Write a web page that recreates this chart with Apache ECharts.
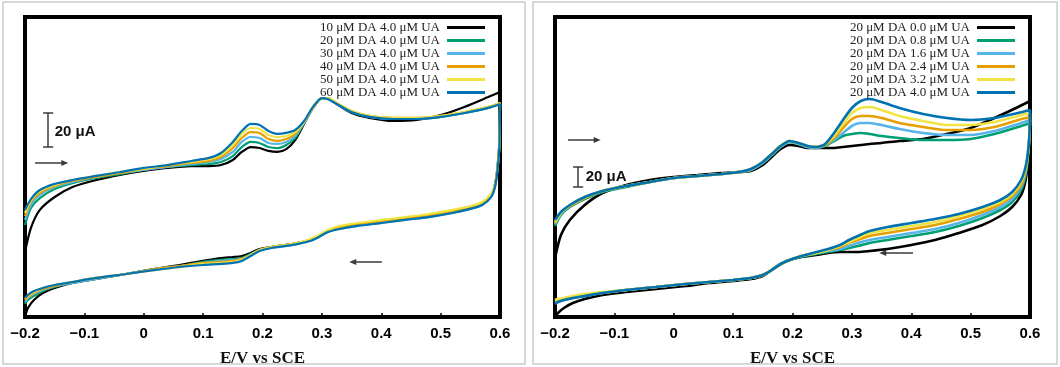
<!DOCTYPE html>
<html><head><meta charset="utf-8">
<script src="https://cdn.jsdelivr.net/npm/echarts/dist/echarts.min.js"></script>
<style>html,body{margin:0;padding:0;background:#fff}#chart{width:1060px;height:367px}</style>
</head><body><div id="chart"></div>
<script>
// ---------- potentials (V vs SCE) ----------
const leftUpE  = [-0.2,-0.19,-0.175,-0.15,-0.12,-0.08,-0.04,0,0.04,0.08,0.11,0.13,0.15,0.165,0.18,0.195,0.21,0.225,0.24,0.255,0.27,0.285,0.3,0.31,0.325,0.35,0.38,0.42,0.46,0.5,0.54,0.58,0.6];
const rightUpE = [-0.2,-0.19,-0.175,-0.15,-0.12,-0.08,-0.04,0,0.04,0.08,0.11,0.13,0.15,0.165,0.18,0.195,0.21,0.225,0.24,0.255,0.27,0.285,0.3,0.315,0.33,0.35,0.38,0.42,0.46,0.5,0.54,0.58,0.6];
const lowerE   = [0.599,0.596,0.592,0.585,0.57,0.55,0.52,0.48,0.44,0.4,0.36,0.33,0.31,0.295,0.28,0.26,0.24,0.215,0.195,0.18,0.165,0.15,0.13,0.1,0.06,0.02,-0.03,-0.08,-0.12,-0.15,-0.17,-0.185,-0.195,-0.2];

const xTicks = [-0.2,-0.1,0,0.1,0.2,0.3,0.4,0.5,0.6];
const leftNames  = ['10 μM DA 4.0 μM UA','20 μM DA 4.0 μM UA','30 μM DA 4.0 μM UA','40 μM DA 4.0 μM UA','50 μM DA 4.0 μM UA','60 μM DA 4.0 μM UA'];
const rightNames = ['20 μM DA 0.0 μM UA','20 μM DA 0.8 μM UA','20 μM DA 1.6 μM UA','20 μM DA 2.4 μM UA','20 μM DA 3.2 μM UA','20 μM DA 4.0 μM UA'];
const colors = ['#000000','#009E73','#56B4E9','#E69F00','#F0E442','#0072B2'];

// ---------- left panel currents (μA, arbitrary offset) ----------
const L10up = [-12.9,1.2,11.8,19.4,25.3,29.4,32.4,34.7,36.5,37.6,37.6,38.2,41.2,45.9,48.8,48.2,46.5,45.9,47.6,52.9,62.4,71.8,77.6,77.6,74.1,68.8,65.9,64.1,64.7,67.6,72.4,78.2,81.2];
const L20up = [2.9,12.9,18.8,24.1,27.6,30.6,32.9,35.3,37.1,38.2,38.8,40.0,43.5,48.8,51.8,51.2,48.8,48.2,50.0,54.1,62.9,71.8,77.6,77.1,74.1,69.4,66.5,65.3,65.3,66.5,68.8,71.8,74.1];
const L30up = [5.9,14.7,20.6,25.3,28.2,31.2,33.5,35.3,37.1,38.8,40.0,41.8,45.9,51.8,54.7,54.1,51.2,50.6,51.8,55.3,62.9,71.8,77.6,77.1,74.1,69.4,66.5,65.3,65.3,66.5,68.8,71.8,74.1];
const L40up = [8.2,16.5,21.8,25.9,28.8,31.2,33.5,35.9,37.6,39.4,40.6,42.9,48.2,54.1,57.6,57.1,53.5,52.4,53.5,56.5,63.5,71.8,77.6,77.6,74.7,70.0,67.1,65.9,65.9,67.1,69.4,72.4,74.7];
const L50up = [10.0,17.6,22.9,26.5,29.4,31.8,34.1,35.9,38.2,40.0,41.8,44.1,50.0,56.5,60.0,59.4,55.9,54.7,55.3,57.6,63.5,72.4,77.6,77.6,74.7,70.0,67.1,65.9,65.9,67.1,69.4,72.4,74.7];
const L60up = [11.8,18.2,23.5,27.1,29.4,31.8,34.1,36.5,38.2,40.6,42.4,45.3,51.8,58.2,62.4,61.8,58.2,56.5,57.1,58.8,64.1,72.4,77.6,77.1,74.1,69.4,66.5,65.3,65.3,66.5,68.8,71.8,74.1];

const L10dn = [52.9,38.2,27.6,20.6,15.9,13.5,11.2,8.8,7.1,5.3,3.5,1.8,-0.6,-3.5,-5.9,-7.6,-8.8,-10.0,-11.2,-13.5,-15.3,-15.9,-16.5,-18.2,-20.6,-22.9,-25.9,-28.8,-31.2,-34.1,-37.1,-41.2,-45.9,-51.2];
const L20dn = [50.0,36.5,26.5,20.0,15.3,12.9,10.6,8.2,6.5,4.7,2.9,1.2,-1.2,-3.5,-5.9,-7.6,-8.8,-10.0,-11.8,-14.1,-16.5,-17.1,-17.6,-18.8,-21.2,-22.9,-25.9,-28.8,-31.2,-33.5,-35.9,-38.8,-41.2,-43.5];
const L30dn = [50.0,36.5,26.5,19.4,14.7,12.4,10.0,7.6,5.9,4.1,2.4,0.6,-1.2,-4.1,-6.5,-8.2,-9.4,-10.6,-11.8,-14.7,-17.1,-17.6,-18.2,-19.4,-21.2,-22.9,-25.9,-28.8,-31.2,-32.9,-35.3,-37.6,-40.0,-42.4];
const L40dn = [50.6,37.1,27.1,20.6,15.9,13.5,11.2,8.8,7.1,5.3,3.5,1.8,-0.6,-3.5,-5.9,-7.6,-8.8,-10.0,-11.8,-14.7,-17.1,-18.2,-18.8,-19.4,-21.2,-22.9,-25.9,-28.2,-30.6,-32.9,-34.7,-37.1,-39.4,-41.2];
const L50dn = [50.6,37.1,27.1,21.2,16.5,14.1,11.8,9.4,7.6,5.9,4.1,2.4,0.0,-2.9,-5.3,-7.6,-8.8,-10.0,-11.8,-14.7,-17.6,-18.8,-19.4,-20.0,-21.8,-23.5,-25.9,-28.2,-30.6,-32.4,-34.1,-36.5,-38.8,-40.6];
const L60dn = [49.4,35.9,25.9,19.4,14.7,12.4,10.0,7.6,5.9,4.1,2.4,0.6,-1.2,-4.1,-6.5,-8.2,-9.4,-10.6,-12.4,-15.3,-18.2,-19.4,-20.0,-20.6,-21.8,-23.5,-25.9,-28.2,-30.6,-32.4,-34.1,-35.9,-38.2,-40.0];

// ---------- right panel currents (μA, arbitrary offset) ----------
const R00up = [-28,-5,10,25,37,45,50,53,55,57,58,59,65,73,81,85,84,82,82,82,82,83,84,85,86,87,89,91,96,102,112,123,129];
const R08up = [4,15,23,31,38,43,48,52,54,56,58,60,67,75,83,88,86,83,82,84,89,94,96,97,96,94,92,90,90,91,96,103,107];
const R16up = [6,16,24,32,39,44,48,52,54,56,58,60,67,75,83,88,86,83,82,85,90,97,104,107,107,105,101,97,95,95,99,106,110];
const R24up = [7,17,24,32,39,44,48,52,54,56,58,61,68,76,84,89,87,84,83,85,92,102,111,114,114,112,107,103,100,100,103,110,113];
const R32up = [8,17,25,33,39,44,48,52,54,56,58,61,68,76,84,89,87,84,83,86,94,106,117,122,123,120,114,109,105,105,108,114,117];
const R40up = [10,18,25,33,39,44,48,52,54,56,58,61,68,76,84,89,87,84,83,86,97,110,122,129,131,128,122,116,112,110,112,117,120];

const R00dn = [90,65,48,35,23,14,5,-3,-10,-15,-19,-21,-22,-22,-22,-23,-25,-27,-30,-34,-40,-46,-49,-51,-53,-56,-59,-62,-65,-69,-73,-78,-83,-87];
const R08dn = [92,70,53,40,28,20,12,4,-2,-6,-10,-13,-16,-18,-20,-22,-24,-27,-30,-34,-40,-45,-48,-50,-52,-54,-57,-60,-63,-66,-68,-70,-71,-72];
const R16dn = [93,72,56,43,31,23,15,7,1,-3,-7,-10,-13,-16,-19,-21,-23,-26,-30,-34,-40,-45,-48,-50,-52,-54,-57,-60,-63,-66,-68,-70,-72,-73];
const R24dn = [94,73,58,45,34,26,18,11,5,1,-3,-6,-10,-13,-17,-20,-23,-26,-30,-34,-40,-45,-48,-50,-52,-54,-57,-60,-63,-65,-67,-69,-70,-71];
const R32dn = [95,74,60,48,36,28,21,14,8,4,0,-3,-8,-12,-16,-20,-23,-26,-30,-34,-40,-45,-48,-50,-52,-54,-57,-60,-62,-64,-66,-68,-69,-70];
const R40dn = [95,75,62,50,38,30,23,16,11,7,3,-1,-6,-10,-15,-19,-22,-26,-30,-34,-40,-45,-48,-50,-52,-54,-57,-60,-63,-66,-68,-70,-72,-74];

const leftUp = [L10up,L20up,L30up,L40up,L50up,L60up];
const leftDn = [L10dn,L20dn,L30dn,L40dn,L50dn,L60dn];
const rightUp = [R00up,R08up,R16up,R24up,R32up,R40up];
const rightDn = [R00dn,R08dn,R16dn,R24dn,R32dn,R40dn];

function loop(upE, up, dn) {
  const a = upE.map((e, i) => [e, up[i]]);
  const b = lowerE.map((e, i) => [e, dn[i]]);
  return a.concat(b);
}

const ann = '#3a3a3a';
function annotations(bar, txt, arrowR, arrowL, cap) {
  return {
    markLine: {
      silent: true, animation: false, symbol: 'none',
      label: { show: false },
      lineStyle: { color: ann, width: 1.5, type: 'solid' },
      emphasis: { disabled: true },
      data: [
        [{ coord: [bar[0], bar[1]] }, { coord: [bar[0], bar[2]] }],
        [{ coord: [bar[0] - cap, bar[1]] }, { coord: [bar[0] + cap, bar[1]] }],
        [{ coord: [bar[0] - cap, bar[2]] }, { coord: [bar[0] + cap, bar[2]] }],
        [{ coord: [arrowR[0], arrowR[2]], symbol: 'none' }, { coord: [arrowR[1], arrowR[2]], symbol: 'triangle', symbolSize: [6, 7], symbolRotate: -90 }],
        [{ coord: [arrowL[1], arrowL[2]], symbol: 'none' }, { coord: [arrowL[0], arrowL[2]], symbol: 'triangle', symbolSize: [6, 7], symbolRotate: 90 }]
      ]
    },
    markPoint: {
      silent: true, animation: false,
      data: [{ coord: [txt[0], txt[1]], symbol: 'circle', symbolSize: 1, itemStyle: { color: 'rgba(0,0,0,0)' },
        label: { show: true, position: 'right', distance: txt[2], formatter: '20 μA', color: '#111',
          fontFamily: 'Liberation Sans', fontWeight: 'bold', fontSize: 15 } }]
    }
  };
}

const series = [];
for (let i = 0; i < 6; i++) {
  const s = {
    type: 'line', name: leftNames[i], xAxisIndex: 0, yAxisIndex: 0,
    data: loop(leftUpE, leftUp[i], leftDn[i]),
    showSymbol: false, smooth: 0.25, animation: false, silent: true,
    lineStyle: { color: colors[i], width: 2.2 }, itemStyle: { color: colors[i] }
  };
  if (i === 0) Object.assign(s, annotations([-0.161, 48.8, 68.8], [-0.161, 57.6, 6], [-0.183, -0.133, 39.4], [0.352, 0.401, -18.8], 0.0085));
  series.push(s);
}
for (let i = 0; i < 6; i++) {
  const s = {
    type: 'line', name: rightNames[i], xAxisIndex: 1, yAxisIndex: 1,
    data: loop(rightUpE, rightUp[i], rightDn[i]),
    showSymbol: false, smooth: 0.25, animation: false, silent: true,
    lineStyle: { color: colors[i], width: 2.6 }, itemStyle: { color: colors[i] }
  };
  if (i === 0) Object.assign(s, annotations([-0.161, 43, 63], [-0.161, 53, 7], [-0.178, -0.129, 90], [0.352, 0.403, -23], 0.0085));
  series.push(s);
}

function fmt(v) {
  const r = Math.round(v * 10) / 10;
  if (r === 0) return '0';
  return (r < 0 ? '\u2212' : '') + Math.abs(r).toString();
}

function xAxis(idx) {
  return {
    type: 'value', gridIndex: idx, min: -0.2, max: 0.6, interval: 0.1,
    name: 'E/V vs SCE', nameLocation: 'middle', nameGap: 33,
    nameTextStyle: { fontFamily: 'Liberation Serif', fontWeight: 'bold', fontSize: 17, color: '#111' },
    axisLine: { show: false, onZero: false },
    axisTick: { show: true, inside: true, length: 4, lineStyle: { color: '#000', width: 1.5 } },
    axisLabel: { margin: 9, formatter: fmt, fontFamily: 'Liberation Sans', fontWeight: 'bold', fontSize: 15, color: '#000', showMinLabel: true, showMaxLabel: true },
    splitLine: { show: false }
  };
}

function legend(names, right) {
  return {
    data: names.map((n, i) => ({ name: n, itemStyle: { color: colors[i] } })),
    orient: 'vertical', right: right, top: 21, padding: 0, align: 'right',
    icon: 'rect', itemWidth: 38, itemHeight: 3, itemGap: 0, selectedMode: false,
    textStyle: { fontFamily: 'Liberation Serif', fontSize: 13, lineHeight: 13, color: '#222', padding: [0, 2, 0, 0] }
  };
}

const chart = echarts.init(document.getElementById('chart'), null, { renderer: 'canvas' });
chart.setOption({
  animation: false,
  backgroundColor: '#ffffff',
  graphic: [
    { type: 'rect', silent: true, z: -10, shape: { x: 3, y: 2, width: 522, height: 362 }, style: { fill: 'none', stroke: '#cccccc', lineWidth: 1.5 } },
    { type: 'rect', silent: true, z: -10, shape: { x: 533, y: 2, width: 524, height: 362 }, style: { fill: 'none', stroke: '#cccccc', lineWidth: 1.5 } }
  ],
  grid: [
    { left: 25, top: 17, width: 475, height: 300, show: true, borderColor: '#000', borderWidth: 4, backgroundColor: 'transparent', containLabel: false, outerBoundsMode: 'none' },
    { left: 555, top: 17, width: 475, height: 300, show: true, borderColor: '#000', borderWidth: 4, backgroundColor: 'transparent', containLabel: false, outerBoundsMode: 'none' }
  ],
  xAxis: [xAxis(0), xAxis(1)],
  yAxis: [
    { type: 'value', gridIndex: 0, min: -51.2, max: 125.3, show: false, splitLine: { show: false } },
    { type: 'value', gridIndex: 1, min: -87, max: 213, show: false, splitLine: { show: false } }
  ],
  legend: [legend(leftNames, 575), legend(rightNames, 45)],
  series: series
});
</script>
</body></html>
